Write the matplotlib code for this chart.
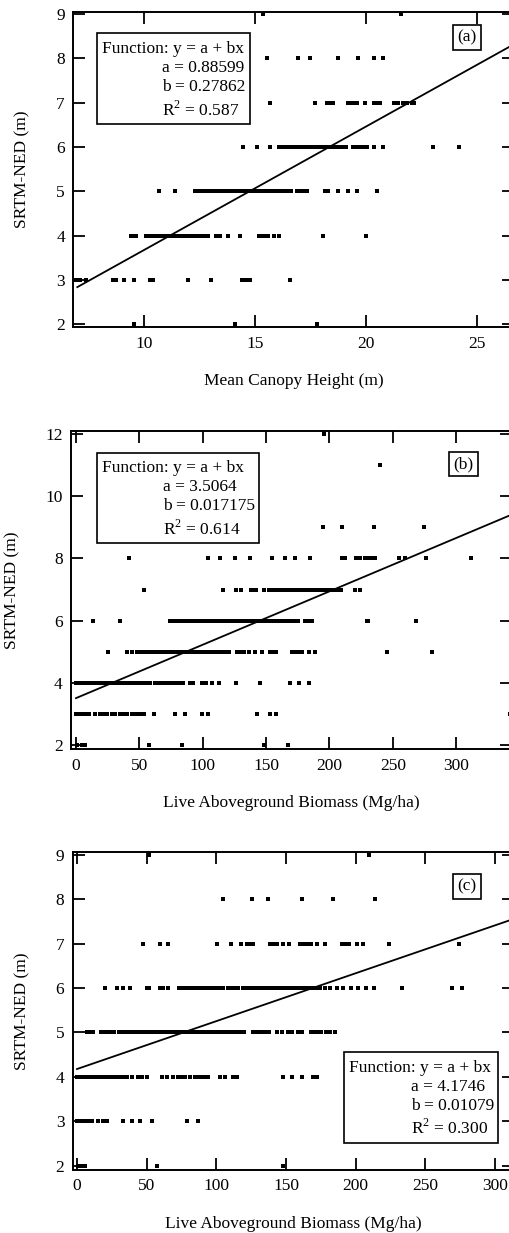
import numpy as np
import matplotlib
matplotlib.use("Agg")
import matplotlib.pyplot as plt
from matplotlib.patches import Rectangle
from matplotlib.ticker import MultipleLocator

plt.rcParams['font.family'] = 'Liberation Serif'
plt.rcParams['mathtext.fontset'] = 'custom'
plt.rcParams['mathtext.rm'] = 'Liberation Serif'
plt.rcParams['font.size'] = 12.5

# ---- (a) mean canopy height (m), one list per SRTM-NED level (m) ----
a_lvl9 = [15.38, 21.58]
a_lvl8 = [15.53, 16.92, 17.48, 18.75, 19.65, 20.36, 20.75]
a_lvl7 = [15.68, 17.72, 18.23, 18.38, 18.53, 19.2, 19.35, 19.47, 19.61, 19.95,
          20.36, 20.51, 20.63, 21.28, 21.45, 21.68, 21.86, 22.06, 22.18]
a_lvl6 = [14.47, 15.08, 15.68, 16.1, 16.2, 16.3, 16.4, 16.5, 16.6, 16.7, 16.8, 16.9,
          17.0, 17.1, 17.2, 17.3, 17.4, 17.5, 17.6, 17.7, 17.8, 17.9, 18.0, 18.1,
          18.2, 18.3, 18.4, 18.5, 18.6, 18.7, 18.8, 18.9, 19.0, 19.1, 19.43, 19.58,
          19.73, 19.88, 20.03, 20.36, 20.75, 23.0, 24.2]
a_lvl5 = [10.69, 11.40, 12.30, 12.45, 12.60, 12.75, 12.9, 13.0, 13.1, 13.2, 13.3,
          13.4, 13.5, 13.6, 13.7, 13.8, 13.9, 14.0, 14.1, 14.2, 14.3, 14.4, 14.5,
          14.6, 14.7, 14.8, 14.9, 15.0, 15.1, 15.2, 15.3, 15.4, 15.5, 15.6, 15.7,
          15.8, 15.9, 16.0, 16.1, 16.2, 16.3, 16.43, 16.61, 16.88, 17.03, 17.18,
          17.36, 18.15, 18.30, 18.75, 19.20, 19.58, 20.48]
a_lvl4 = [9.41, 9.53, 9.65, 10.1, 10.2, 10.3, 10.4, 10.5, 10.6, 10.7, 10.85, 11.0,
          11.15, 11.3, 11.4, 11.5, 11.6, 11.7, 11.8, 11.9, 12.0, 12.1, 12.2, 12.3,
          12.4, 12.5, 12.6, 12.7, 12.8, 12.9, 13.24, 13.42, 13.77, 14.35, 15.2,
          15.32, 15.45, 15.57, 15.86, 16.07, 18.05, 19.98]
a_lvl3 = [6.94, 7.12, 7.39, 8.62, 8.74, 9.10, 9.55, 10.27, 10.42, 12.0, 13.02,
          14.4, 14.58, 14.77, 16.58]
a_lvl2 = [9.55, 14.11, 17.78]

# ---- (b) live aboveground biomass (Mg/ha) ----
b_lvl12 = [196]
b_lvl11 = [240.2]
b_lvl9 = [194.6, 209.9, 235.4, 274.4]
b_lvl8 = [42.1, 103.8, 113.8, 125.6, 137, 154.6, 165.1, 173, 184.4, 209.9, 212.5,
          221.2, 223.9, 228.3, 231, 233.6, 236.2, 254.7, 259.9, 276.5, 311.3]
b_lvl7 = [53.7, 115.9, 126.4, 130.1, 138, 140.1, 142.2, 148, 152, 154, 156, 158,
          160, 162, 164, 166, 168, 170, 172, 174, 176, 178, 180, 182, 184, 186,
          188, 190, 192, 194, 196, 198, 200, 202, 204, 206, 208, 209, 220.4, 224.4]
b_lvl6 = [13.2, 34.8, 74.3, 76.9, 79.5, 82.2, 84.8, 87.4, 90.1, 92.7, 95.3, 98,
          100.6, 103.2, 105.9, 108, 110, 112, 114, 116, 118, 120, 122, 124, 126,
          128, 130, 132, 134, 136, 138, 140, 142, 144, 146, 148, 150, 152, 154,
          156, 158, 161.2, 163.8, 166.4, 169.1, 171.7, 174.9, 180.9, 183.6, 186.2,
          229.7, 230.5, 268.4]
b_lvl5 = [25.5, 40.6, 44, 47.9, 50.6, 53, 55, 57, 59, 61, 63, 65, 67, 69, 71, 73,
          75, 77, 79, 81, 83, 85, 87, 89, 91, 93, 95, 97, 99, 101, 103, 105, 107,
          110.6, 113.2, 115.9, 118.5, 120.4, 127, 129.6, 132.2, 136.2, 141.4,
          146.7, 152.8, 155.4, 158, 170.4, 173, 175.6, 178.3, 183.6, 188.8,
          245.5, 281]
b_lvl4 = [0, 2, 4, 6, 8, 10, 12, 14, 16, 18, 20, 22, 24, 26, 28, 30, 32, 34, 36,
          38, 40, 42, 44, 46, 48, 50, 52, 54, 56, 58.5, 62.4, 65, 67, 69, 71, 73,
          75.6, 78.2, 80.9, 84.3, 90.1, 92.7, 99.3, 102.7, 107.2, 112.5, 126.2,
          145.4, 169.1, 175.6, 183.6]
b_lvl3 = [0, 1.5, 3, 4.5, 6, 7.5, 10.5, 15, 19, 21.6, 24.2, 28.2, 30.8, 34.8, 37.4,
          40, 44, 46.6, 49.2, 51.9, 53.7, 61.6, 78.2, 86.1, 99.3, 103.8, 142.7,
          153.3, 158, 342.1]
b_lvl2 = [1, 4.5, 7.1, 57.2, 83.5, 148, 167]

# ---- (c) live aboveground biomass (Mg/ha), second site ----
c_lvl9 = [51.9, 209.6]
c_lvl8 = [104.5, 125.4, 136.8, 161.2, 184, 213.9]
c_lvl7 = [47.6, 59.6, 65.6, 100.7, 110.3, 117.5, 121.8, 124.2, 126.6, 138.5, 140.9,
          143.3, 147.6, 152.4, 160, 162.4, 164.8, 167.7, 172, 178, 190, 192.3,
          195.5, 201.2, 205.5, 224.2, 274.4]
c_lvl6 = [20.1, 28.9, 33.3, 38, 50.5, 51.8, 59.6, 62, 65.6, 73.2, 75.6, 78, 80.4,
          82.8, 85.2, 88, 90, 92, 94, 96, 98, 100, 102, 104, 105, 108.6, 111,
          113.4, 115.8, 118.9, 122, 124, 126, 128, 130, 132, 134, 136, 138, 140,
          142, 143.3, 146, 148, 150, 152, 154, 156, 158, 160, 162, 164, 166, 168,
          170, 172, 174, 178, 181.6, 186.4, 191.1, 196.4, 201.9, 207.2, 213.2,
          233, 268.9, 276.1]
c_lvl5 = [6.9, 9.3, 11.7, 17, 19.4, 21.8, 24.2, 26.6, 30, 32, 34, 36, 38, 40, 42,
          44, 46, 48, 50, 52, 54, 56, 58, 60, 62, 64, 66, 68, 70, 72, 74, 76, 78,
          80, 82, 84, 86, 88, 90, 92, 94, 96, 98, 100, 102, 104, 106, 108, 110,
          112, 114, 116, 118, 120, 126.1, 128.5, 130.9, 133.3, 135.6, 138, 143.3,
          146.9, 151.7, 154.1, 158.9, 161.2, 167.7, 170.1, 172.5, 174.9, 178.7,
          181.6, 185.2]
c_lvl4 = [0, 2, 4, 6, 8, 10, 12, 14, 16, 18, 20, 22, 24, 26, 28, 30, 32, 34, 36,
          39.2, 44, 46.4, 50, 60.8, 64.4, 69.1, 72.7, 75.1, 77.5, 81.1, 84.7, 87.1,
          89.5, 91.9, 94.3, 102.6, 106.2, 112.2, 115.1, 147.6, 154.1, 161.2,
          169.6, 172]
c_lvl3 = [0, 2, 4, 6, 8, 10.5, 15.3, 18.9, 21.8, 33.3, 39.2, 45.2, 53.6, 78.7, 86.6]
c_lvl2 = [0.5, 2.5, 6, 57.2, 147.6]

# fit results y = a + bx, R^2
fit_a = (0.88599, 0.27862, 0.587)
fit_b = (3.5064, 0.017175, 0.614)
fit_c = (4.1746, 0.01079, 0.300)

W, H = 510, 1233  # output size in px


def fxy(px, py):
    # pixel position -> figure fraction
    return px / W, 1 - py / H


def stack(levels):
    xs, ys = [], []
    for lvl, vals in levels:
        xs += list(vals)
        ys += [lvl] * len(vals)
    return np.array(xs), np.array(ys)


def panel(fig, rect, levels, fit, xstart, xlim, ylim, xstep, ystep, xlabel):
    ax = fig.add_axes(rect)
    x, y = stack(levels)
    ax.plot(x, y, 's', color='k', ms=2.2, mew=0, antialiased=False)
    a, b, r2 = fit
    xx = np.array([xstart, xlim[1]])
    ax.plot(xx, a + b * xx, color='k', lw=1.3)
    ax.set_xlim(xlim)
    ax.set_ylim(ylim)
    ax.xaxis.set_major_locator(MultipleLocator(xstep))
    ax.yaxis.set_major_locator(MultipleLocator(ystep))
    ax.tick_params(direction='in', length=8.5, width=1.3, top=True, right=True,
                   pad=6)
    for s in ax.spines.values():
        s.set_linewidth(1.4)
    ax.set_xlabel(xlabel)
    ax.set_ylabel('SRTM-NED (m)')
    ax.xaxis.set_label_coords(0.5, -0.145)
    return ax


def fit_box(fig, box, txt_x, ind_x, rows, fit):
    x0, y0, x1, y1 = box
    fig.add_artist(Rectangle(fxy(x0, y1), (x1 - x0) / W, (y1 - y0) / H,
                             transform=fig.transFigure, fc='white', ec='k', lw=1.2))
    a, b, r2 = fit
    fig.text(*fxy(txt_x, rows[0]), 'Function: y = a + bx', ha='left', va='center')
    fig.text(*fxy(ind_x, rows[1]), f'a = {a:g}', ha='left', va='center')
    fig.text(*fxy(ind_x, rows[2]), f'b = {b:g}', ha='left', va='center')
    fig.text(*fxy(ind_x, rows[3]), r'R$^{\mathrm{2}}$' + f' = {r2:.3f}', ha='left', va='center')


def tag(fig, px, py, s):
    fig.text(*fxy(px, py), s, ha='center', va='center',
             bbox=dict(boxstyle='square,pad=0.25', fc='white', ec='k', lw=1.2))


fig = plt.figure(figsize=(W / 100, H / 100), dpi=100)

ax_a = panel(fig, [73.3 / W, 1 - 327.3 / H, 441.2 / W, 315.6 / H],
             [(9, a_lvl9), (8, a_lvl8), (7, a_lvl7), (6, a_lvl6), (5, a_lvl5),
              (4, a_lvl4), (3, a_lvl3), (2, a_lvl2)],
             fit_a, 7.0, (6.82, 26.69), (1.93, 9.05), 5, 1, 'Mean Canopy Height (m)')
ax_a.yaxis.set_label_coords(-0.097, 0.5)

ax_b = panel(fig, [71 / W, 1 - 749.3 / H, 441.5 / W, 318.3 / H],
             [(12, b_lvl12), (11, b_lvl11), (9, b_lvl9), (8, b_lvl8), (7, b_lvl7),
              (6, b_lvl6), (5, b_lvl5), (4, b_lvl4), (3, b_lvl3), (2, b_lvl2)],
             fit_b, 0, (-3.95, 344.4), (1.86, 12.1), 50, 2, 'Live Aboveground Biomass (Mg/ha)')
ax_b.yaxis.set_label_coords(-0.115, 0.5)

ax_c = panel(fig, [72.7 / W, 1 - 1170 / H, 441.5 / W, 318.3 / H],
             [(9, c_lvl9), (8, c_lvl8), (7, c_lvl7), (6, c_lvl6), (5, c_lvl5),
              (4, c_lvl4), (3, c_lvl3), (2, c_lvl2)],
             fit_c, 0, (-3.1, 313.7), (1.90, 9.07), 50, 1, 'Live Aboveground Biomass (Mg/ha)')
ax_c.yaxis.set_label_coords(-0.095, 0.5)

fit_box(fig, (97, 33, 250, 124), 101.7, 162.3, (49.3, 67.7, 86.7, 110), fit_a)
fit_box(fig, (97, 452.7, 259, 543), 101.7, 163.3, (468.3, 487.3, 506, 529.3), fit_b)
fit_box(fig, (344, 1052, 498, 1143), 349, 410.7, (1068.3, 1087.3, 1106, 1128.3), fit_c)

tag(fig, 467, 37.5, '(a)')
tag(fig, 463.5, 464, '(b)')
tag(fig, 467, 886.5, '(c)')

fig.savefig('out.png', dpi=100)
